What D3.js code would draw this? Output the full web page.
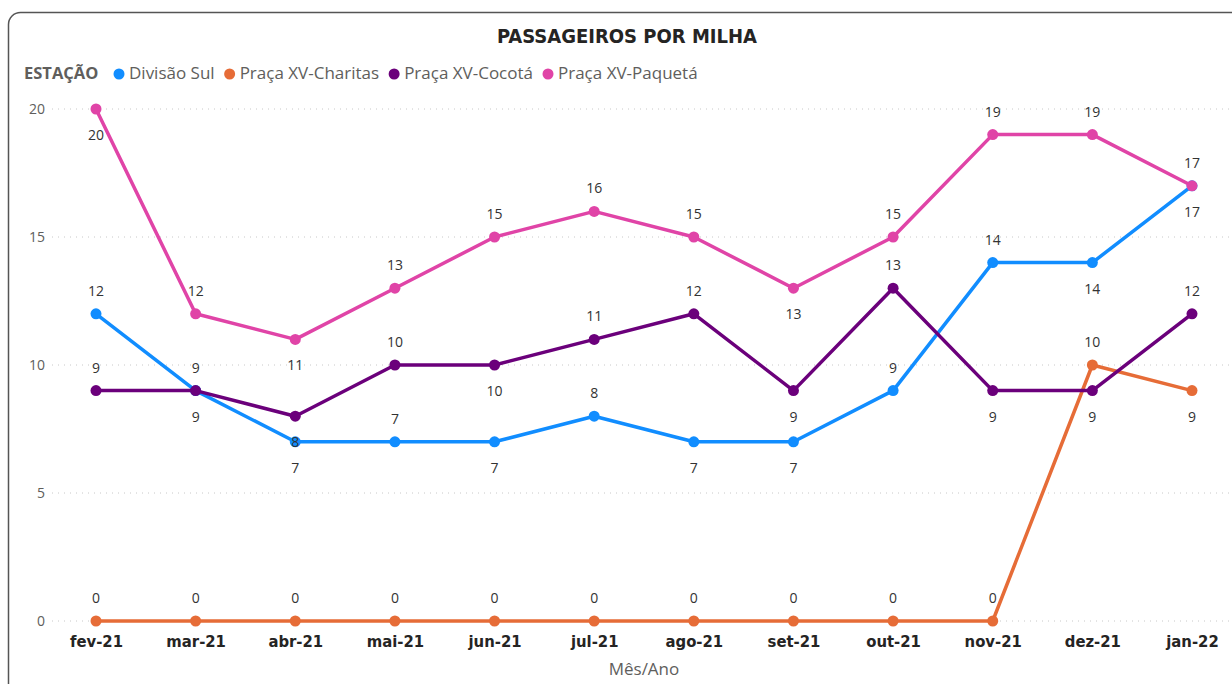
<!DOCTYPE html>
<html>
<head>
<meta charset="utf-8">
<script src="https://cdn.jsdelivr.net/npm/d3@7"></script>
<style>
  body { margin: 0; background: #fff; }
  svg { display: block; }
</style>
</head>
<body>
<div id="vis"></div>
<script>
// Data
const months = ['fev-21', 'mar-21', 'abr-21', 'mai-21', 'jun-21', 'jul-21', 'ago-21', 'set-21', 'out-21', 'nov-21', 'dez-21', 'jan-22'];
const stations = ['Divisão Sul', 'Praça XV-Charitas', 'Praça XV-Cocotá', 'Praça XV-Paquetá'];
const divisaoSul = [12, 9, 7, 7, 7, 8, 7, 7, 9, 14, 14, 17];
const charitas = [0, 0, 0, 0, 0, 0, 0, 0, 0, 0, 10, 9];
const cocota = [9, 9, 8, 10, 10, 11, 12, 9, 13, 9, 9, 12];
const paqueta = [20, 12, 11, 13, 15, 16, 15, 13, 15, 19, 19, 17];
const yTicks = [0, 5, 10, 15, 20];

// where each data label sits (a = above, b = below), same as the report
const labelSide = {
    'Divisão Sul':       'abbababbaabb'.split(''),
    'Praça XV-Charitas': 'aaaaaaaaaaab'.split(''),
    'Praça XV-Cocotá':   'aababaababba'.split(''),
    'Praça XV-Paquetá':  'babaaaabaaaa'.split('')
};

const colors = ['#118DFF', '#E66C37', '#6B007B', '#E044A7'];
const colorScale = d3.scaleOrdinal(stations, colors);

const series = [divisaoSul, charitas, cocota, paqueta].map((vals, i) => ({
    name: stations[i],
    values: vals.map((v, j) => ({ month: months[j], value: v, side: labelSide[stations[i]][j] }))
}));

const W = 1232, H = 684;

const svg = d3.select('#vis').append('svg')
    .attr('width', W)
    .attr('height', H);

// card frame
svg.append('rect')
    .attr('x', 8.5).attr('y', 12.5)
    .attr('width', 1240).attr('height', 690)
    .attr('rx', 12)
    .attr('fill', '#fff')
    .attr('stroke', '#555')
    .attr('stroke-width', 1.5);

// Title
svg.append('text')
    .attr('x', 627).attr('y', 43)
    .attr('text-anchor', 'middle')
    .style('font-family', '"DejaVu Sans Condensed", "DejaVu Sans", sans-serif')
    .style('font-weight', 'bold')
    .style('font-size', '20px')
    .style('fill', '#252423')
    .text('PASSAGEIROS POR MILHA');

// Legend
const legend = svg.append('g').attr('transform', 'translate(24,79)');
legend.append('text')
    .attr('x', 0).attr('y', 0)
    .style('font-family', '"Open Sans", sans-serif')
    .style('font-weight', 'bold')
    .style('font-size', '16.5px')
    .style('fill', '#605E5C')
    .text('ESTAÇÃO');
let lx = 95;
stations.forEach((s, i) => {
    legend.append('circle')
        .attr('cx', lx).attr('cy', -5)
        .attr('r', 5.5)
        .attr('fill', colorScale(s));
    const t = legend.append('text')
        .attr('x', lx + 10).attr('y', 0)
        .style('font-family', '"Open Sans", sans-serif')
        .style('font-size', '17px')
        .style('fill', '#605E5C')
        .text(s);
    lx += 10 + t.node().getComputedTextLength() + 15;
});

// Scales
const x = d3.scalePoint()
    .domain(months)
    .range([96, 1192]);

const y = d3.scaleLinear()
    .domain([0, 20])
    .range([621, 109]);

// gridlines
svg.append('g')
    .selectAll('line')
    .data(yTicks)
    .join('line')
    .attr('x1', 52).attr('x2', W)
    .attr('y1', d => y(d)).attr('y2', d => y(d))
    .attr('stroke', '#c8c8c8')
    .attr('stroke-width', 1)
    .attr('stroke-dasharray', '1,5');

// y axis labels
const yAxis = d3.axisLeft(y).tickValues(yTicks).tickSize(0).tickPadding(0);
svg.append('g')
    .attr('class', 'axis')
    .attr('transform', 'translate(45,0)')
    .call(yAxis)
    .call(g => g.select('.domain').remove())
    .call(g => g.selectAll('text')
        .attr('text-anchor', 'end')
        .style('font-family', '"Open Sans", sans-serif')
        .style('font-size', '14px')
        .style('fill', '#605E5C'));

// x axis
const xAxis = d3.axisBottom(x).tickSize(0).tickPadding(0);
svg.append('g')
    .attr('class', 'axis')
    .attr('transform', 'translate(0,632)')
    .call(xAxis)
    .call(g => g.select('.domain').remove())
    .call(g => g.selectAll('text')
        .attr('dy', '0.9em')
        .style('font-family', '"DejaVu Sans Condensed", sans-serif')
        .style('font-weight', 'bold')
        .style('font-size', '16.5px')
        .style('fill', '#252423'));

// x axis title
svg.append('text')
    .attr('x', 644).attr('y', 675)
    .attr('text-anchor', 'middle')
    .style('font-family', '"Open Sans", sans-serif')
    .style('font-size', '17px')
    .style('fill', '#605E5C')
    .text('Mês/Ano');

// Lines
const line = d3.line()
    .x(d => x(d.month))
    .y(d => y(d.value));

const gSeries = svg.selectAll('.series')
    .data(series)
    .join('g')
    .attr('class', 'series');

gSeries.append('path')
    .attr('d', d => line(d.values))
    .attr('fill', 'none')
    .attr('stroke', d => colorScale(d.name))
    .attr('stroke-width', 3.5)
    .attr('stroke-linejoin', 'round');

gSeries.selectAll('circle')
    .data(d => d.values.map(v => ({ ...v, name: d.name })))
    .join('circle')
    .attr('cx', d => x(d.month))
    .attr('cy', d => y(d.value))
    .attr('r', 5.5)
    .attr('fill', d => colorScale(d.name));

// Data labels
gSeries.selectAll('.lbl')
    .data(d => d.values)
    .join('text')
    .attr('class', 'lbl')
    .attr('x', d => x(d.month))
    .attr('y', d => y(d.value) + (d.side === 'a' ? -18 : 31))
    .attr('text-anchor', 'middle')
    .style('font-family', '"Open Sans", sans-serif')
    .style('font-size', '14px')
    .style('fill', '#333')
    .text(d => d.value);
</script>
</body>
</html>
